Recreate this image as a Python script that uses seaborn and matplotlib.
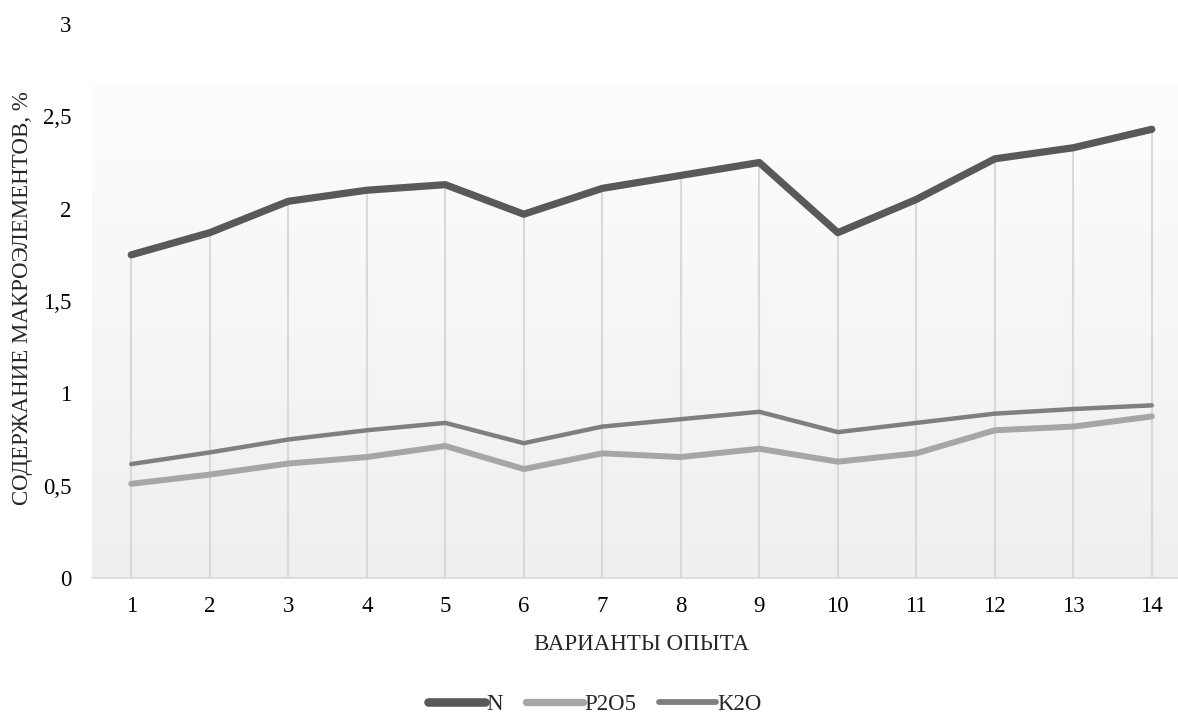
import numpy as np
import pandas as pd
import matplotlib
matplotlib.use("Agg")
import matplotlib.pyplot as plt
import seaborn as sns

variants = list(range(1, 15))
n_vals = [1.75, 1.87, 2.04, 2.10, 2.13, 1.97, 2.11, 2.18, 2.25, 1.87, 2.05, 2.27, 2.33, 2.43]
p2o5_vals = [0.51, 0.56, 0.62, 0.655, 0.715, 0.59, 0.675, 0.655, 0.70, 0.63, 0.675, 0.80, 0.82, 0.875]
k2o_vals = [0.617, 0.68, 0.75, 0.80, 0.84, 0.73, 0.82, 0.86, 0.90, 0.79, 0.84, 0.89, 0.915, 0.935]
series_names = ["N", "P2O5", "K2O"]
y_ticks = [0, 0.5, 1, 1.5, 2, 2.5, 3]
y_tick_labels = ["0", "0,5", "1", "1,5", "2", "2,5", "3"]

df = pd.DataFrame({
    "variant": variants * 3,
    "value": n_vals + p2o5_vals + k2o_vals,
    "series": sum([[s] * len(variants) for s in series_names], []),
})

sns.set_theme(style="white")
plt.rcParams["font.family"] = ["Liberation Serif", "DejaVu Serif"]
FS = 16.5

fig = plt.figure(figsize=(11.78, 7.19), dpi=100)
ax = fig.add_axes([0.0781, 0.1961, 0.933, 0.7705])

# soft vertical gradient behind the plot area
grad = np.linspace(0, 1, 256).reshape(-1, 1)
cmap = matplotlib.colors.LinearSegmentedColormap.from_list("bg", ["#fdfdfd", "#efefef"])
ax.imshow(grad, aspect="auto", cmap=cmap, extent=[0.5, 14.5, 0, 2.67],
          origin="upper", zorder=0)

# drop lines from the top series down to the axis
ax.vlines(variants, 0, n_vals, color="#d9d9d9", linewidth=1.5, zorder=1)

palette = {"N": "#595959", "P2O5": "#a6a6a6", "K2O": "#7f7f7f"}
widths = {"N": 5.2, "P2O5": 4.3, "K2O": 3.2}
sns.lineplot(data=df, x="variant", y="value", hue="series", palette=palette,
             ax=ax, legend=False, zorder=3)
for line, name in zip(ax.get_lines(), series_names):
    line.set_linewidth(widths[name])
    line.set_solid_capstyle("round")
    line.set_solid_joinstyle("round")

ax.set_xlim(0.5, 14.5)
ax.set_ylim(0, 3)
ax.set_xticks(variants)
ax.set_xticklabels([str(v) for v in variants])
ax.set_yticks(y_ticks)
ax.set_yticklabels(y_tick_labels)
ax.tick_params(axis="both", labelsize=FS, length=0, colors="black")
ax.tick_params(axis="x", pad=13)
ax.tick_params(axis="y", pad=15)
ax.grid(False)
for side in ["left", "right", "top"]:
    ax.spines[side].set_visible(False)
ax.spines["bottom"].set_color("#d9d9d9")
ax.spines["bottom"].set_linewidth(1.2)
ax.set_facecolor("white")

ax.set_xlabel("ВАРИАНТЫ ОПЫТА", fontsize=FS, labelpad=12)
ax.set_ylabel("")
fig.text(0.019, 0.585, "СОДЕРЖАНИЕ МАКРОЭЛЕМЕНТОВ, %", rotation=90,
         fontsize=FS, ha="center", va="center")

handles = [matplotlib.lines.Line2D([], [], color=palette[s], linewidth=widths[s] + 1,
                                   solid_capstyle="round") for s in series_names]
fig.legend(handles, series_names, loc="center", bbox_to_anchor=(0.505, 0.02),
           ncol=3, frameon=False, fontsize=FS, handlelength=2.5,
           handletextpad=0.05, columnspacing=1.0, borderpad=0.2)

fig.savefig("out.png", dpi=100)
